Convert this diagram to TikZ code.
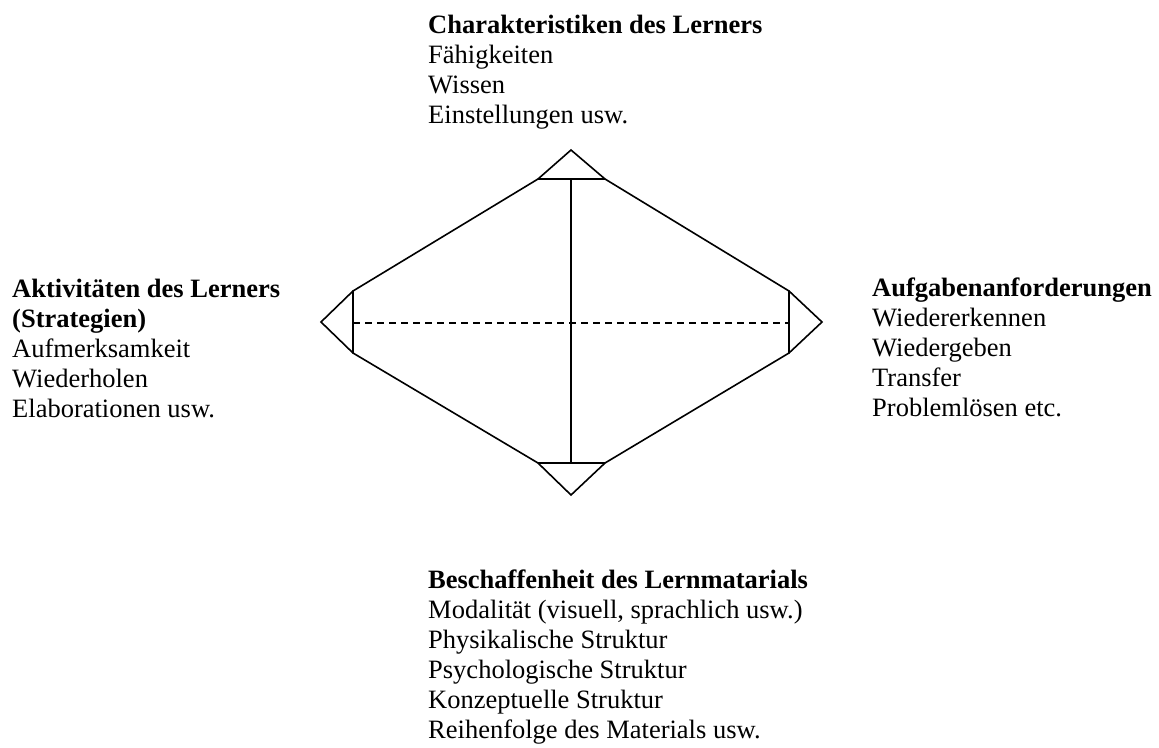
\documentclass[tikz,border=0pt]{standalone}
\usepackage{fontspec}
\setmainfont{Liberation Serif}
\begin{document}
\begin{tikzpicture}[x=1pt,y=-1pt,
  edge/.style={line width=1.6pt,line join=miter},
  axisdash/.style={line width=1.6pt,dash pattern=on 7pt off 5pt},
  label/.style={anchor=base west,inner sep=0pt,font=\fontsize{26.5}{30}\selectfont}]
\useasboundingbox (0,0) rectangle (1159,747);

% corner points of the truncated rhombus
\coordinate (tl) at (538,179);  \coordinate (tr) at (605,179);
\coordinate (rt) at (789,291);  \coordinate (rb) at (789,353);
\coordinate (br) at (605,463);  \coordinate (bl) at (538,463);
\coordinate (lb) at (353,353);  \coordinate (lt) at (353,291);
% tips of the four small triangles
\coordinate (ttip) at (571,150);
\coordinate (rtip) at (822,322);
\coordinate (btip) at (571,495);
\coordinate (ltip) at (321,322);
% ends of the two axes
\coordinate (vtop) at (571,179);  \coordinate (vbot) at (571,463);
\coordinate (hl) at (353,323);    \coordinate (hr) at (789,323);

% outline
\draw[edge] (lt) -- (tl) -- (tr) -- (rt) -- (rb) -- (br) -- (bl) -- (lb) -- cycle;
% small triangles at the corners
\draw[edge] (tl) -- (ttip) -- (tr);
\draw[edge] (rt) -- (rtip) -- (rb);
\draw[edge] (br) -- (btip) -- (bl);
\draw[edge] (lb) -- (ltip) -- (lt);
% axes
\draw[edge] (vtop) -- (vbot);
\draw[axisdash] (hl) -- (hr);

% text blocks
\node[label] (top) at (428,33) {\begin{tabular}[t]{@{}l@{}}
  \textbf{Charakteristiken des Lerners}\\
  Fähigkeiten\\
  Wissen\\
  Einstellungen usw.
\end{tabular}};

\node[label] (left) at (12,297) {\begin{tabular}[t]{@{}l@{}}
  \textbf{Aktivitäten des Lerners}\\
  \textbf{(Strategien)}\\
  Aufmerksamkeit\\
  Wiederholen\\
  Elaborationen usw.
\end{tabular}};

\node[label] (right) at (872,296) {\begin{tabular}[t]{@{}l@{}}
  \textbf{Aufgabenanforderungen}\\
  Wiedererkennen\\
  Wiedergeben\\
  Transfer\\
  Problemlösen etc.
\end{tabular}};

\node[label] (bottom) at (428,588) {\begin{tabular}[t]{@{}l@{}}
  \textbf{Beschaffenheit des Lernmatarials}\\
  Modalität (visuell, sprachlich usw.)\\
  Physikalische Struktur\\
  Psychologische Struktur\\
  Konzeptuelle Struktur\\
  Reihenfolge des Materials usw.
\end{tabular}};
\end{tikzpicture}
\end{document}
